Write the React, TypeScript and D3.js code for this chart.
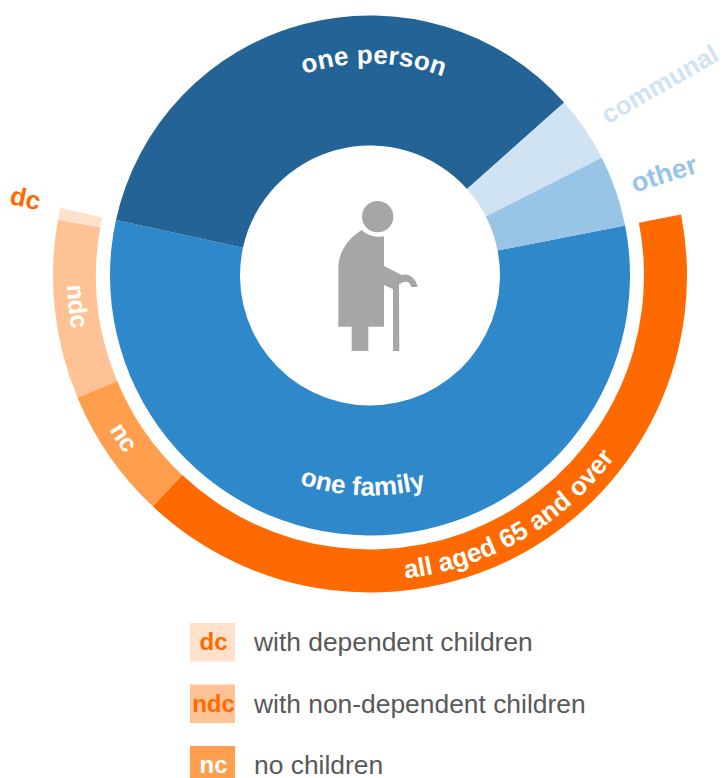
import React from "react";
import * as d3 from "d3";

const innerNames = ["one family", "one person", "communal", "other"];
const innerValues = [56.5, 35.0, 4.1, 4.4];
const innerColors = ["#2E88C9", "#236396", "#D0E3F2", "#98C4E6"];

const outerNames = ["all aged 65 and over", "nc", "ndc", "dc"];
const outerValues = [40.1, 6.7, 9.1, 0.6];
const outerColors = ["#FF6A00", "#FF9F4D", "#FFC294", "#FFE1CC"];

const legendKeys = ["dc", "ndc", "nc"];
const legendTexts = ["with dependent children", "with non-dependent children", "no children"];
const legendFills = ["#FFE1CC", "#FFC294", "#FF9F4D"];
const legendInk = ["#FF6A00", "#FF6A00", "#FFFFFF"];

const START_DEG = 78.9;
const CX = 370;
const CY = 275.5;
const FONT = "'Liberation Sans', Arial, sans-serif";

const rad = (d: number) => (d * Math.PI) / 180;
const angle = d3.scaleLinear().domain([0, 100]).range([rad(START_DEG), rad(START_DEG + 360)]);

function slices(values: number[]) {
  let acc = 0;
  return values.map((v) => {
    const s = { startAngle: angle(acc), endAngle: angle(acc + v) };
    acc += v;
    return s;
  });
}

// A circular guide for curved text, centred on a clock angle (deg clockwise from top)
function guide(r: number, centreDeg: number, span: number, clockwise: boolean) {
  const p = d3.path();
  const a = rad(centreDeg - 90);
  const h = rad(span / 2);
  const a0 = clockwise ? a - h : a + h;
  const a1 = clockwise ? a + h : a - h;
  p.moveTo(r * Math.cos(a0), r * Math.sin(a0));
  p.arc(0, 0, r, a0, a1, !clockwise);
  return p.toString();
}

type Curved = { text: string; r: number; at: number; cw: boolean; size: number; fill: string; weight: number; ls?: number };
const curvedLabels: Curved[] = [
  { text: "one person", r: 212, at: 1, cw: true, size: 26, fill: "#FFFFFF", weight: 700, ls: 0.2 },
  { text: "one family", r: 220, at: 182, cw: false, size: 26, fill: "#FFFFFF", weight: 700 },
  { text: "all aged 65 and over", r: 305, at: 150, cw: false, size: 26, fill: "#FFFFFF", weight: 700 },
  { text: "ndc", r: 303, at: 264, cw: false, size: 25, fill: "#FFFFFF", weight: 700 },
  { text: "nc", r: 303, at: 236.7, cw: false, size: 25, fill: "#FFFFFF", weight: 700 },
];

const radialLabels = [
  { text: "communal", r: 347, at: 56.9, rot: -30, size: 26, fill: "#D0E3F2" },
  { text: "other", r: 311, at: 71.3, rot: -17.5, size: 27, fill: "#98C4E6" },
  { text: "dc", r: 353, at: 282.3, rot: 12, size: 26, fill: "#FF6A00" },
];

function Icon() {
  return (
    <g transform="translate(320,190) scale(0.3333)" fill="#A6A6A6">
      <circle cx={173} cy={80} r={47} />
      <path d="M125 120 C 140 136, 170 144, 192 139 L192 228 L245 255 C 262 248, 288 262, 293 291 L274 291 C 270 274, 254 270, 240 282 L218 297 L192 285 L192 410 L145 410 L145 483 L95 483 L95 410 L55 410 L55 235 C 55 185, 85 145, 125 120 Z" />
      <path d="M219 293 L237 283 L238 483 L219 483 Z" />
    </g>
  );
}

export default function App() {
  const innerArc = d3.arc().innerRadius(130).outerRadius(260);
  const outerArc = d3.arc().innerRadius(274).outerRadius(317);
  return (
    <svg width={726} height={778} style={{ position: "absolute", left: 0, top: 0, background: "#fff" }} fontFamily={FONT}>
      <g transform={`translate(${CX},${CY})`}>
        {slices(innerValues).map((s, i) => (
          <path key={innerNames[i]} d={innerArc(s as any) as string} fill={innerColors[i]} />
        ))}
        {slices(outerValues).map((s, i) => (
          <path key={outerNames[i]} d={outerArc(s as any) as string} fill={outerColors[i]} />
        ))}
        <defs>
          {curvedLabels.map((l, i) => (
            <path key={l.text} id={`guide-${i}`} d={guide(l.r, l.at, 120, l.cw)} />
          ))}
        </defs>
        {curvedLabels.map((l, i) => (
          <text key={l.text} fontSize={l.size} fontWeight={l.weight} fill={l.fill} textAnchor="middle" letterSpacing={l.ls ?? 0}>
            <textPath href={`#guide-${i}`} startOffset="50%">{l.text}</textPath>
          </text>
        ))}
        {radialLabels.map((l) => {
          const a = rad(l.at - 90);
          return (
            <text
              key={l.text}
              transform={`translate(${l.r * Math.cos(a)},${l.r * Math.sin(a)}) rotate(${l.rot})`}
              fontSize={l.size}
              fontWeight={700}
              fill={l.fill}
              textAnchor="middle"
              dominantBaseline="middle"
            >
              {l.text}
            </text>
          );
        })}
      </g>
      <Icon />
      {legendKeys.map((k, i) => {
        const y = 623 + i * 61.5;
        return (
          <g key={k}>
            <rect x={190} y={y} width={45} height={38.5} fill={legendFills[i]} />
            <text x={213.5} y={y + 27} textAnchor="middle" fontSize={24} fontWeight={700} fill={legendInk[i]}>{k}</text>
            <text x={254} y={y + 28} fontSize={26.4} fill="#595959">{legendTexts[i]}</text>
          </g>
        );
      })}
    </svg>
  );
}
